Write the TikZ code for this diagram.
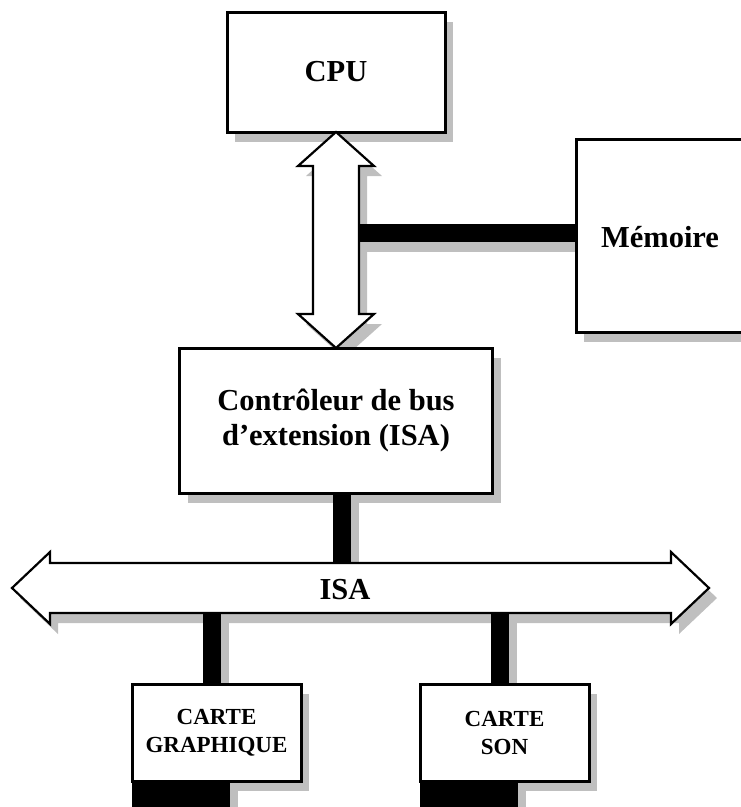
\documentclass[tikz,border=0pt]{standalone}
\usepackage{fontspec}
\setmainfont{Liberation Serif}
\usetikzlibrary{calc,shadows}
\begin{document}
\begin{tikzpicture}[x=1pt,y=-1pt,
  sh/.style={drop shadow={shadow xshift=8pt, shadow yshift=-10pt, fill=black!25, opacity=1, draw=none}},
  box/.style={draw, line width=3pt, fill=white, inner sep=0pt, outer sep=0pt, sh},
  big/.style={font=\bfseries\fontsize{30.5}{35}\selectfont, align=center},
  small/.style={font=\bfseries\fontsize{23}{28}\selectfont, align=center},
  hollow/.style={draw, line width=2.2pt, fill=white, line join=miter, sh},
  bar/.style={line width=18pt, preaction={draw=black!25, line width=18pt, transform canvas={shift={(8pt,-10pt)}}}},
  foot/.style={fill=black, inner sep=0pt, outer sep=0pt, minimum width=98pt, minimum height=26pt, anchor=north west, sh},
]
\path[use as bounding box] (0,0) rectangle (741,807);
\clip (0,0) rectangle (741,807);

% anchor points fixed ahead of the boxes so that bars can be drawn underneath them
\coordinate (ctrlN) at (336,348);
\coordinate (memW)  at (576,235.5);
\coordinate (gfxN)  at (216.5,684);
\coordinate (sonN)  at (504.5,684);
\coordinate (busW)  at (12,588);
\coordinate (busE)  at (709,588);
\coordinate (busN)  at ($(busW)+(38,-25)$);
\coordinate (busS)  at ($(busW)+(38,25)$);

% processor
\node[box, big, minimum width=218pt, minimum height=120pt] (cpu) at (336,72) {CPU};

% local bus between processor and controller
\draw[hollow] (cpu.south) -- ++(38,34) -- ++(-15,0) -- ++(0,148) -- ++(15,0)
  -- (ctrlN) -- ++(-38,-34) -- ++(15,0) -- ++(0,-148) -- ++(-15,0) -- cycle;
\coordinate (vbusR) at ($(cpu.south)+(23,101)$);

% memory link and memory
\draw[bar] (vbusR) -- (vbusR -| memW);
\node[box, anchor=west, minimum width=240pt, minimum height=193pt] (mem) at (memW) {};
\node[big] (memtxt) at (660,237) {Mémoire};

% expansion bus controller
\node[box, big, anchor=north, minimum width=313pt, minimum height=145pt] (ctrl) at (ctrlN)
  {Contrôleur de bus\\d’extension (ISA)};
\coordinate (cb) at ($(ctrl.south)+(5.5,0)$);
\draw[bar] (cb) -- (cb |- busN);

% ISA bus
\draw[hollow] (busW) -- ++(38,-36) -- ++(0,11) -- ++(621,0) -- ++(0,-11)
  -- (busE) -- ++(-38,36) -- ++(0,-11) -- ++(-621,0) -- ++(0,11) -- cycle;
\node[big] (isa) at (345,590) {ISA};

% expansion cards
\coordinate (gb) at ($(gfxN)+(-4.5,0)$);
\coordinate (sb) at ($(sonN)+(-4.5,0)$);
\draw[bar] (gb |- busS) -- (gb);
\draw[bar] (sb |- busS) -- (sb);

\node[box, small, anchor=north, minimum width=169pt, minimum height=97pt] (gfx) at (gfxN)
  {CARTE\\GRAPHIQUE};
\node[box, small, anchor=north, minimum width=169pt, minimum height=97pt] (son) at (sonN)
  {CARTE\\SON};
\node[foot] (gfxfoot) at (gfx.south west) {};
\node[foot] (sonfoot) at (son.south west) {};
\end{tikzpicture}
\end{document}
